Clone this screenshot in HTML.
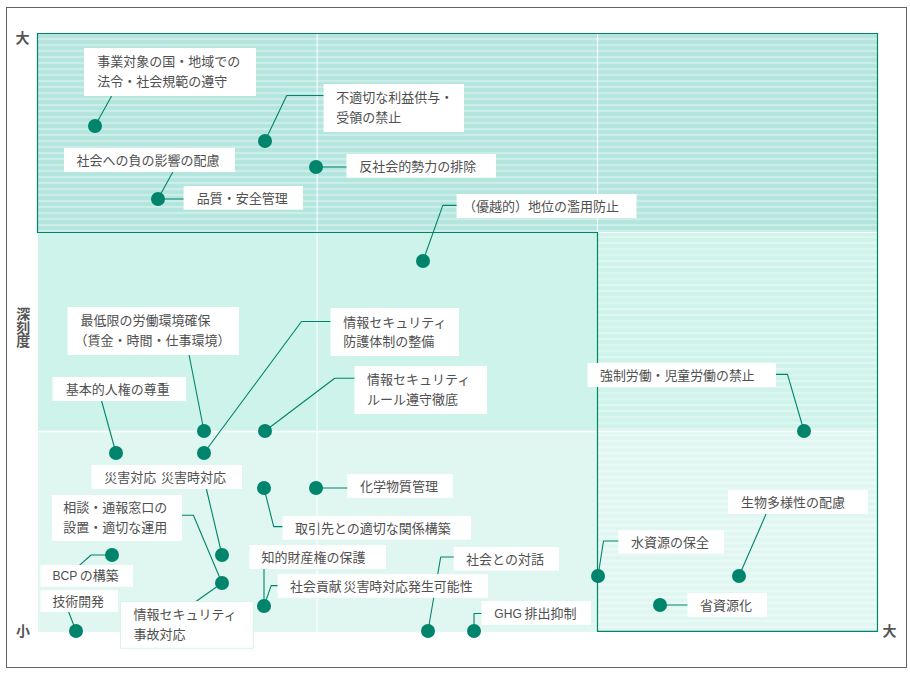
<!DOCTYPE html>
<html lang="ja">
<head>
<meta charset="utf-8">
<title>マテリアリティ・マップ</title>
<style>
html,body{margin:0;padding:0;background:#fff;}
body{width:910px;height:674px;position:relative;overflow:hidden;font-family:"Liberation Sans",sans-serif;}
#chart{position:absolute;left:0;top:0;width:910px;height:674px;}
#chart svg{display:block;position:absolute;left:0;top:0;}
#chart svg text{font-family:"Liberation Sans","Noto Sans CJK JP",sans-serif;}
#labels span{position:absolute;white-space:pre;color:transparent;font-family:"Liberation Sans",sans-serif;}
</style>
</head>
<body>
<div id="chart">
<svg width="910" height="674" viewBox="0 0 910 674"><defs><pattern id="st" x="0" y="37.85" width="1000" height="6" patternUnits="userSpaceOnUse"><rect x="0" y="0" width="1000" height="2.3" fill="#fff" fill-opacity=".34"/></pattern></defs><rect x="37.5" y="33.5" width="840.0" height="199.0" fill="#b2e5dd"/>
<rect x="38" y="232.5" width="839.5" height="199.0" fill="#cdf3ea"/>
<rect x="38" y="431.5" width="839.5" height="200.39999999999998" fill="#e0f6f1"/>
<path d="M37.5 33.5H877.5V631.3H597.5V232.5H37.5Z" fill="url(#st)"/>
<path d="M317.2 33.5V631.3" stroke="#fff" stroke-opacity=".6" stroke-width="1.8"/>
<path d="M597.5 33.5V232.5" stroke="#fff" stroke-width="1.1"/>
<path d="M597.5 232.5H877.5" stroke="#fff" stroke-width="1.1"/>
<path d="M37.5 431.5H877.5" stroke="#fff" stroke-width="1.3"/>
<path d="M37.5 33.5H877.5V631.3H597.5V232.5H37.5Z" fill="none" stroke="#00846b" stroke-width="1.2"/>
<rect x="6.5" y="7.5" width="900" height="660" fill="none" stroke="#636363" stroke-width="1"/>
<path d="M111.6 96L95 126M324 95.5L286.7 95.5L265 141M172.8 172L158 199L184 199M316 167L347 167M457 205.4L442.8 205.4L423 261M189.1 355L204 431M101.6 401L116 453M331 321.5L301.5 321.5L204 453M355 378.2L334.7 378.2L265 431M776 374.4L787.5 374.4L804 431M766.1 514L739 576M619 541L603.5 541L598 576M660 605L688 605M206.4 489L222 555M182 515.3L193.4 515.3L222 583M112 555L91.1 555L79.4 565.4M68.7 612L76 631M264 488L273.7 526.6L283 526.6M316 488L348 488M264 569L264 606M278 585.6L271.2 585.6L264 606M454 557L440.7 557L428 631M482 613.5L474 613.5L474 631M222 583L195.3 602" fill="none" stroke="#00846b" stroke-width="1.1" stroke-linejoin="round"/>
<rect x="84" y="48" width="172" height="48" fill="#fff"/>
<rect x="64" y="148" width="171" height="24" fill="#fff"/>
<rect x="183.6" y="186" width="119.4" height="23.7" fill="#fff"/>
<rect x="323.6" y="84" width="140.4" height="48" fill="#fff"/>
<rect x="346.5" y="154" width="149.5" height="23.7" fill="#fff"/>
<rect x="456.6" y="194" width="179.9" height="24" fill="#fff"/>
<rect x="67.5" y="307" width="171.5" height="48" fill="#fff"/>
<rect x="52.5" y="377" width="133.5" height="24" fill="#fff"/>
<rect x="330.5" y="308" width="128.5" height="48" fill="#fff"/>
<rect x="354.5" y="366" width="132.5" height="48" fill="#fff"/>
<rect x="587.5" y="363" width="188.5" height="24" fill="#fff"/>
<rect x="728" y="490" width="140" height="24" fill="#fff"/>
<rect x="618.4" y="530.2" width="105.6" height="23.4" fill="#fff"/>
<rect x="687.5" y="593" width="79.5" height="23.7" fill="#fff"/>
<rect x="91.5" y="465" width="150.5" height="24" fill="#fff"/>
<rect x="52" y="495" width="130" height="46" fill="#fff"/>
<rect x="40.4" y="565" width="92.6" height="21.7" fill="#fff"/>
<rect x="40.4" y="590" width="77.6" height="21.9" fill="#fff"/>
<rect x="120.5" y="601.6" width="132.8" height="46.7" fill="#fff" stroke="#d9f3ed" stroke-width="1"/>
<rect x="347.3" y="474.2" width="105.5" height="23.7" fill="#fff"/>
<rect x="282.5" y="516" width="188.5" height="23.7" fill="#fff"/>
<rect x="249.5" y="545" width="136.5" height="24" fill="#fff"/>
<rect x="277.6" y="574.1" width="210.4" height="23.7" fill="#fff"/>
<rect x="453.7" y="547" width="105.3" height="23.7" fill="#fff"/>
<rect x="481.5" y="601" width="109.5" height="23.8" fill="#fff"/>
<circle cx="95" cy="126" r="7" fill="#00846b"/>
<circle cx="265" cy="141" r="7" fill="#00846b"/>
<circle cx="158" cy="199" r="7" fill="#00846b"/>
<circle cx="316" cy="167" r="7" fill="#00846b"/>
<circle cx="423" cy="261" r="7" fill="#00846b"/>
<circle cx="204" cy="431" r="7" fill="#00846b"/>
<circle cx="116" cy="453" r="7" fill="#00846b"/>
<circle cx="204" cy="453" r="7" fill="#00846b"/>
<circle cx="265" cy="431" r="7" fill="#00846b"/>
<circle cx="804" cy="431" r="7" fill="#00846b"/>
<circle cx="739" cy="576" r="7" fill="#00846b"/>
<circle cx="598" cy="576" r="7" fill="#00846b"/>
<circle cx="660" cy="605" r="7" fill="#00846b"/>
<circle cx="222" cy="555" r="7" fill="#00846b"/>
<circle cx="222" cy="583" r="7" fill="#00846b"/>
<circle cx="112" cy="555" r="7" fill="#00846b"/>
<circle cx="76" cy="631" r="7" fill="#00846b"/>
<circle cx="264" cy="488" r="7" fill="#00846b"/>
<circle cx="316" cy="488" r="7" fill="#00846b"/>
<circle cx="264" cy="606" r="7" fill="#00846b"/>
<circle cx="428" cy="631" r="7" fill="#00846b"/>
<circle cx="474" cy="631" r="7" fill="#00846b"/>
<text x="97.3" y="66.08" font-size="13" fill="#505050">事業対象の国・地域での</text>
<text x="97.3" y="86.47" font-size="13" fill="#505050">法令・社会規範の遵守</text>
<text x="76.5" y="165.07" font-size="13" fill="#505050">社会への負の影響の配慮</text>
<text x="196.8" y="203.18" font-size="13" fill="#505050">品質・安全管理</text>
<text x="336.2" y="102.28" font-size="13" fill="#505050">不適切な利益供与・</text>
<text x="336.2" y="121.78" font-size="13" fill="#505050">受領の禁止</text>
<text x="359.3" y="171.18" font-size="13" fill="#505050">反社会的勢力の排除</text>
<text x="463.1" y="210.88" font-size="13" fill="#505050">（優越的）地位の濫用防止</text>
<text x="80.6" y="325.27" font-size="13" fill="#505050">最低限の労働環境確保</text>
<text x="74.6" y="345.48" font-size="13" fill="#505050">（賃金・時間・仕事環境）</text>
<text x="65.7" y="394.27" font-size="13" fill="#505050">基本的人権の尊重</text>
<text x="343.2" y="326.57" font-size="13" fill="#505050">情報セキュリティ</text>
<text x="343.2" y="345.98" font-size="13" fill="#505050">防護体制の整備</text>
<text x="367" y="384.18" font-size="13" fill="#505050">情報セキュリティ</text>
<text x="367" y="403.88" font-size="13" fill="#505050">ルール遵守徹底</text>
<text x="600" y="380.24" font-size="12.9" fill="#505050">強制労働・児童労働の禁止</text>
<text x="741.1" y="507.07" font-size="13" fill="#505050">生物多様性の配慮</text>
<text x="631.1" y="547.27" font-size="13" fill="#505050">水資源の保全</text>
<text x="700" y="609.67" font-size="13" fill="#505050">省資源化</text>
<text y="482.27" font-size="13" fill="#505050"><tspan x="104.3">災害対応</tspan><tspan x="161">災害時対応</tspan></text>
<text x="63.2" y="512.17" font-size="13" fill="#505050">相談・通報窓口の</text>
<text x="63.2" y="532.17" font-size="13" fill="#505050">設置・適切な運用</text>
<text y="580.17" font-size="13" fill="#505050"><tspan x="52.4" textLength="25" lengthAdjust="spacingAndGlyphs">BCP</tspan><tspan x="79.76">の構築</tspan></text>
<text x="52.4" y="605.93" font-size="12.88" fill="#505050">技術開発</text>
<text x="133.5" y="619.17" font-size="13" fill="#505050">情報セキュリティ</text>
<text x="133.5" y="638.88" font-size="13" fill="#505050">事故対応</text>
<text x="360" y="490.98" font-size="13" fill="#505050">化学物質管理</text>
<text x="294.9" y="532.88" font-size="13" fill="#505050">取引先との適切な関係構築</text>
<text x="261.4" y="562.08" font-size="13" fill="#505050">知的財産権の保護</text>
<text y="591.25" font-size="12.92" fill="#505050"><tspan x="290.1">社会貢献</tspan><tspan x="343.48">災害時対応発生可能性</tspan></text>
<text x="466.1" y="564.08" font-size="13" fill="#505050">社会との対話</text>
<text y="617.88" font-size="13" fill="#505050"><tspan x="494.3" textLength="27.5" lengthAdjust="spacingAndGlyphs">GHG</tspan><tspan x="524.59">排出抑制</tspan></text>
<text x="15.5" y="42.75" font-size="14" font-weight="bold" fill="#555555">大</text>
<text x="16.2" y="319.05" font-size="14" font-weight="bold" fill="#555555">深</text>
<text x="16.2" y="332.65" font-size="14" font-weight="bold" fill="#555555">刻</text>
<text x="16.2" y="346.45" font-size="14" font-weight="bold" fill="#555555">度</text>
<text x="16" y="636.25" font-size="14" font-weight="bold" fill="#555555">小</text>
<text x="882.5" y="635.85" font-size="14" font-weight="bold" fill="#555555">大</text></svg>
<div id="labels">
<span style="left:97.3px;top:52.1px;font-size:13px;line-height:18.2px;">事業対象の国・地域での</span>
<span style="left:97.3px;top:72.5px;font-size:13px;line-height:18.2px;">法令・社会規範の遵守</span>
<span style="left:76.5px;top:151.1px;font-size:13px;line-height:18.2px;">社会への負の影響の配慮</span>
<span style="left:196.8px;top:189.2px;font-size:13px;line-height:18.2px;">品質・安全管理</span>
<span style="left:336.2px;top:88.3px;font-size:13px;line-height:18.2px;">不適切な利益供与・</span>
<span style="left:336.2px;top:107.8px;font-size:13px;line-height:18.2px;">受領の禁止</span>
<span style="left:359.3px;top:157.2px;font-size:13px;line-height:18.2px;">反社会的勢力の排除</span>
<span style="left:463.1px;top:196.9px;font-size:13px;line-height:18.2px;">（優越的）地位の濫用防止</span>
<span style="left:80.6px;top:311.3px;font-size:13px;line-height:18.2px;">最低限の労働環境確保</span>
<span style="left:74.6px;top:331.5px;font-size:13px;line-height:18.2px;">（賃金・時間・仕事環境）</span>
<span style="left:65.7px;top:380.3px;font-size:13px;line-height:18.2px;">基本的人権の尊重</span>
<span style="left:343.2px;top:312.6px;font-size:13px;line-height:18.2px;">情報セキュリティ</span>
<span style="left:343.2px;top:332px;font-size:13px;line-height:18.2px;">防護体制の整備</span>
<span style="left:367px;top:370.2px;font-size:13px;line-height:18.2px;">情報セキュリティ</span>
<span style="left:367px;top:389.9px;font-size:13px;line-height:18.2px;">ルール遵守徹底</span>
<span style="left:600px;top:366.37px;font-size:12.9px;line-height:18.06px;">強制労働・児童労働の禁止</span>
<span style="left:741.1px;top:493.1px;font-size:13px;line-height:18.2px;">生物多様性の配慮</span>
<span style="left:631.1px;top:533.3px;font-size:13px;line-height:18.2px;">水資源の保全</span>
<span style="left:700px;top:595.7px;font-size:13px;line-height:18.2px;">省資源化</span>
<span style="left:104.3px;top:468.3px;font-size:13px;line-height:18.2px;">災害対応 災害時対応</span>
<span style="left:63.2px;top:498.2px;font-size:13px;line-height:18.2px;">相談・通報窓口の</span>
<span style="left:63.2px;top:518.2px;font-size:13px;line-height:18.2px;">設置・適切な運用</span>
<span style="left:52.4px;top:566.2px;font-size:13px;line-height:18.2px;">BCP の構築</span>
<span style="left:52.4px;top:592.08px;font-size:12.88px;line-height:18.03px;">技術開発</span>
<span style="left:133.5px;top:605.2px;font-size:13px;line-height:18.2px;">情報セキュリティ</span>
<span style="left:133.5px;top:624.9px;font-size:13px;line-height:18.2px;">事故対応</span>
<span style="left:360px;top:477px;font-size:13px;line-height:18.2px;">化学物質管理</span>
<span style="left:294.9px;top:518.9px;font-size:13px;line-height:18.2px;">取引先との適切な関係構築</span>
<span style="left:261.4px;top:548.1px;font-size:13px;line-height:18.2px;">知的財産権の保護</span>
<span style="left:290.1px;top:577.36px;font-size:12.92px;line-height:18.09px;">社会貢献 災害時対応発生可能性</span>
<span style="left:466.1px;top:550.1px;font-size:13px;line-height:18.2px;">社会との対話</span>
<span style="left:494.3px;top:603.9px;font-size:13px;line-height:18.2px;">GHG 排出抑制</span>
<span style="left:15.5px;top:27.7px;font-size:14px;line-height:19.6px;font-weight:bold;">大</span>
<span style="left:16.2px;top:304px;font-size:14px;line-height:19.6px;font-weight:bold;">深</span>
<span style="left:16.2px;top:317.6px;font-size:14px;line-height:19.6px;font-weight:bold;">刻</span>
<span style="left:16.2px;top:331.4px;font-size:14px;line-height:19.6px;font-weight:bold;">度</span>
<span style="left:16px;top:621.2px;font-size:14px;line-height:19.6px;font-weight:bold;">小</span>
<span style="left:882.5px;top:620.8px;font-size:14px;line-height:19.6px;font-weight:bold;">大</span>
</div>
</div>
</body>
</html>
